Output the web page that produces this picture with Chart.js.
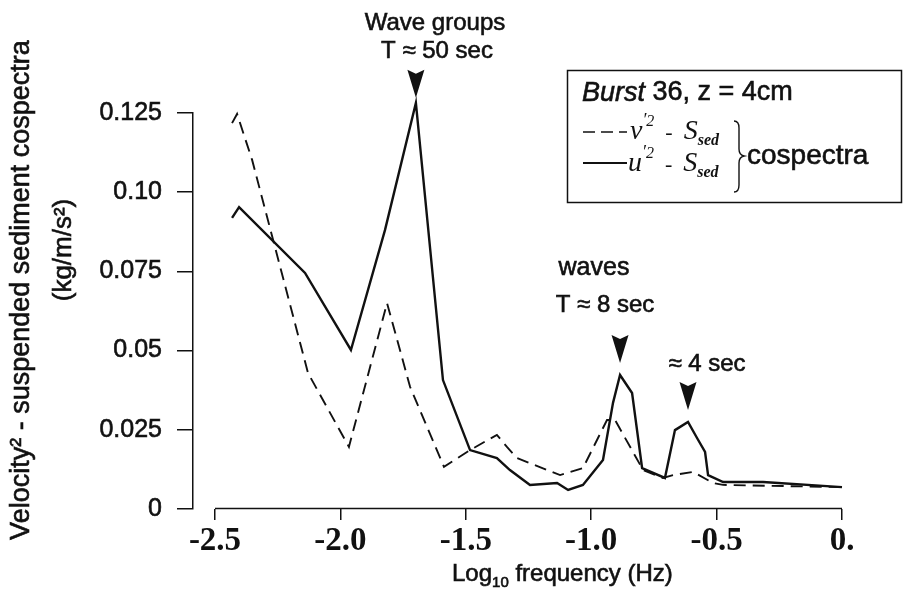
<!DOCTYPE html>
<html>
<head>
<meta charset="utf-8">
<script src="https://cdn.jsdelivr.net/npm/chart.js@4"></script>
<style>
  html, body { margin: 0; padding: 0; background: #fff; }
  #chart { display: block; }
</style>
</head>
<body>
<canvas id="chart" width="910" height="592"></canvas>
<script>
// cospectra: log10 frequency (Hz) vs kg/m/s^2
const vLogF = [-2.432, -2.412, -2.352, -2.129, -1.966, -1.814, -1.722, -1.587, -1.483, -1.376, -1.336, -1.296,
               -1.124, -1.033, -0.937, -0.905, -0.793, -0.714, -0.674, -0.594, -0.514, -0.474, 0.0];
const vCospec = [0.1218, 0.1247, 0.1102, 0.0429, 0.0196, 0.0650, 0.0385, 0.0133, 0.0186, 0.0234, 0.0196, 0.0161,
                 0.0107, 0.0129, 0.0281, 0.0281, 0.0123, 0.0098, 0.0107, 0.0117, 0.0082, 0.0076, 0.0069];
const uLogF = [-2.432, -2.404, -2.141, -1.958, -1.822, -1.699, -1.591, -1.483, -1.376, -1.324, -1.244, -1.136,
               -1.092, -1.033, -0.953, -0.913, -0.885, -0.837, -0.797, -0.706, -0.666, -0.614, -0.578, -0.546,
               -0.534, -0.474, -0.315, 0.0];
const uCospec = [0.0919, 0.0953, 0.0745, 0.0502, 0.0881, 0.1282, 0.0407, 0.0186, 0.0161, 0.0123, 0.0076, 0.0082,
                 0.0060, 0.0076, 0.0155, 0.0335, 0.0423, 0.0366, 0.0129, 0.0098, 0.0249, 0.0275, 0.0224, 0.0180,
                 0.0107, 0.0085, 0.0085, 0.0069];
const xTicks = [-2.5, -2.0, -1.5, -1.0, -0.5, 0];
const xTickLabels = ["-2.5", "-2.0", "-1.5", "-1.0", "-0.5", "0."];
const yTicks = [0, 0.025, 0.05, 0.075, 0.1, 0.125];
const yTickLabels = ["0", "0.025", "0.05", "0.075", "0.10", "0.125"];
// u-series peaks that get an arrow (wave groups, 8 s waves, 4 s waves)
const peakIdx = [5, 16, 21];

const ink = "#111";
const SANS = "'Liberation Sans', Arial, sans-serif";
const SERIF = "'Liberation Serif', 'Times New Roman', serif";

// scanned print looks heavier than plain regular weight, so give text a thin outline
function text(ctx, s, x, y, font, align) {
  ctx.font = font;
  ctx.textAlign = align || "center";
  ctx.textBaseline = "middle";
  ctx.lineWidth = 0.6;
  ctx.fillText(s, x, y);
  ctx.strokeText(s, x, y);
}

function seriesLabel(ctx, base, x, yb) {
  const parts = [
    [base, "italic 28px " + SERIF, 0],
    ["\u2032", "italic 18px " + SERIF, -13],
    ["2", "italic 16px " + SERIF, -13],
    ["  -  ", "22px " + SERIF, 0],
    ["S", "italic 28px " + SERIF, 0],
    ["sed", "bold italic 16px " + SERIF, 6],
  ];
  ctx.textAlign = "left";
  ctx.textBaseline = "alphabetic";
  for (const [s, f, dy] of parts) {
    ctx.font = f;
    ctx.fillText(s, x, yb + dy);
    x += ctx.measureText(s).width;
  }
}

const annotate = {
  id: "annotate",
  beforeDraw(chart) {
    const ctx = chart.ctx;
    ctx.save();
    ctx.fillStyle = "#fff";
    ctx.fillRect(0, 0, chart.width, chart.height);
    ctx.restore();
  },
  afterDraw(chart) {
    const { ctx, scales: { x, y } } = chart;
    ctx.save();
    ctx.fillStyle = ink;
    ctx.strokeStyle = ink;

    // x axis line only spans the labelled range
    ctx.lineWidth = 1.5;
    ctx.beginPath();
    ctx.moveTo(x.getPixelForValue(xTicks[0]), y.bottom - 0.5);
    ctx.lineTo(x.getPixelForValue(xTicks[xTicks.length - 1]), y.bottom - 0.5);
    ctx.stroke();

    // axis titles
    ctx.save();
    ctx.translate(22, 290);
    ctx.rotate(-Math.PI / 2);
    text(ctx, "Velocity\u00B2 - suspended sediment cospectra", 0, 0, "27px " + SANS);
    ctx.restore();
    ctx.save();
    ctx.translate(64, 250);
    ctx.rotate(-Math.PI / 2);
    text(ctx, "(kg/m/s\u00B2)", 0, 0, "26px " + SANS);
    ctx.restore();

    let tx = 452;
    text(ctx, "Log", tx, 574, "24px " + SANS, "left");
    tx += ctx.measureText("Log").width;
    text(ctx, "10", tx, 583, "15px " + SANS, "left");
    tx += ctx.measureText("10").width;
    text(ctx, " frequency (Hz)", tx, 574, "24px " + SANS, "left");

    // arrows over the peaks
    const gaps = [5, 12, 12];
    peakIdx.forEach((k, i) => {
      const px = x.getPixelForValue(uLogF[k]);
      const tip = y.getPixelForValue(uCospec[k]) - gaps[i];
      ctx.beginPath();
      ctx.moveTo(px, tip);
      ctx.lineTo(px - 8.5, tip - 28);
      ctx.lineTo(px, tip - 24);
      ctx.lineTo(px + 8.5, tip - 28);
      ctx.closePath();
      ctx.fill();
    });

    text(ctx, "Wave groups", 435, 23, "24px " + SANS);
    text(ctx, "T \u2248 50 sec", 437, 51, "24px " + SANS);
    text(ctx, "waves", 594, 268, "25px " + SANS);
    text(ctx, "T \u2248 8 sec", 605, 305, "24px " + SANS);
    text(ctx, "\u2248 4 sec", 707, 364, "24px " + SANS);

    // legend box
    ctx.lineWidth = 1.5;
    ctx.strokeRect(567.5, 70.5, 334, 132);
    ctx.font = "italic 27px " + SANS;
    const bw = ctx.measureText("Burst").width;
    text(ctx, "Burst", 582, 93, "italic 27px " + SANS, "left");
    text(ctx, " 36, z = 4cm", 582 + bw, 93, "27px " + SANS, "left");

    ctx.lineWidth = 1.6;
    ctx.setLineDash([12, 6]);
    ctx.beginPath();
    ctx.moveTo(583, 132);
    ctx.lineTo(627, 132);
    ctx.stroke();
    ctx.setLineDash([]);
    ctx.lineWidth = 2;
    ctx.beginPath();
    ctx.moveTo(583, 163);
    ctx.lineTo(627, 163);
    ctx.stroke();
    seriesLabel(ctx, "v", 630, 139);
    seriesLabel(ctx, "u", 628, 171);

    // brace
    ctx.lineWidth = 1.4;
    ctx.beginPath();
    ctx.moveTo(734, 121);
    ctx.quadraticCurveTo(739, 121, 739, 128);
    ctx.lineTo(739, 149);
    ctx.quadraticCurveTo(739, 155, 744, 156);
    ctx.quadraticCurveTo(739, 157, 739, 163);
    ctx.lineTo(739, 185);
    ctx.quadraticCurveTo(739, 192, 734, 192);
    ctx.stroke();
    text(ctx, "cospectra", 747, 156, "28px " + SANS, "left");

    ctx.restore();
  }
};

const toPoints = (xs, ys) => xs.map((v, i) => ({ x: v, y: ys[i] }));

new Chart(document.getElementById("chart"), {
  type: "scatter",
  data: {
    datasets: [
      {
        label: "v'2 - S_sed",
        data: toPoints(vLogF, vCospec),
        showLine: true,
        borderColor: ink,
        borderWidth: 1.9,
        borderDash: [12, 7],
        pointRadius: 0,
        tension: 0,
        clip: false,
      },
      {
        label: "u'2 - S_sed",
        data: toPoints(uLogF, uCospec),
        showLine: true,
        borderColor: ink,
        borderWidth: 2.4,
        pointRadius: 0,
        tension: 0,
        clip: false,
      },
    ],
  },
  options: {
    responsive: false,
    animation: false,
    layout: { padding: { top: 113, right: 68, left: 0, bottom: 0 } },
    plugins: { legend: { display: false }, tooltip: { enabled: false } },
    scales: {
      x: {
        type: "linear",
        min: -2.5877,
        max: 0,
        afterBuildTicks: (s) => { s.ticks = xTicks.map((v) => ({ value: v })); },
        afterFit: (s) => { s.height = 83; },
        grid: { drawOnChartArea: false, drawTicks: true, tickLength: 11, color: ink, lineWidth: 1.5 },
        border: { display: false },
        ticks: {
          color: ink,
          padding: 2,
          maxRotation: 0,
          autoSkip: false,
          font: { family: SERIF, size: 33, weight: "bold" },
          callback: (v) => xTickLabels[xTicks.indexOf(v)],
        },
      },
      y: {
        min: 0,
        max: 0.125,
        afterBuildTicks: (s) => { s.ticks = yTicks.map((v) => ({ value: v })); },
        afterFit: (s) => { s.width = 193; },
        grid: { drawOnChartArea: false, drawTicks: true, tickLength: 16, color: ink, lineWidth: 1.5 },
        border: { display: true, color: ink, width: 1.5 },
        ticks: {
          color: ink,
          padding: 15,
          textStrokeColor: ink,
          textStrokeWidth: 0.6,
          font: { family: SANS, size: 25 },
          callback: (v) => yTickLabels[yTicks.indexOf(v)],
        },
      },
    },
  },
  plugins: [annotate],
});
</script>
</body>
</html>
